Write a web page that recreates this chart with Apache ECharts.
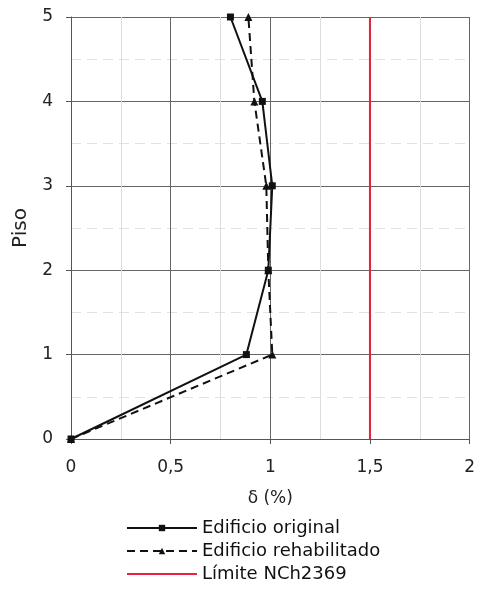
<!DOCTYPE html>
<html>
<head>
<meta charset="utf-8">
<script src="https://cdn.jsdelivr.net/npm/echarts@6/dist/echarts.min.js"></script>
<style>
  html, body { margin: 0; padding: 0; background: #fff; }
  #chart { width: 478px; height: 590px; }
</style>
</head>
<body>
<div id="chart"></div>
<script>
// datos
var pisos = [0, 1, 2, 3, 4, 5];
var derivaOriginal = [0, 0.88, 0.99, 1.01, 0.96, 0.80];
var derivaRehab = [0, 1.01, 0.99, 0.98, 0.92, 0.89];
var limiteX = 1.5;
var limiteY = [0, 5];

function pares(xs, ys) {
  return xs.map(function (x, i) { return [x, ys[i]]; });
}

var myChart = echarts.init(document.getElementById('chart'));
var fuente = 'DejaVu Sans';

var option = {
  animation: false,
  grid: { left: 71, right: 6, top: 17, bottom: 151 },
  legend: {
    orient: 'vertical',
    left: 126,
    top: 519,
    padding: 0,
    itemWidth: 70,
    itemHeight: 8,
    itemGap: 5,
    textStyle: { fontFamily: fuente, fontSize: 18, color: '#111' },
    data: [
      'Edificio original',
      'Edificio rehabilitado',
      { name: 'Límite NCh2369', itemStyle: { opacity: 0 } }
    ]
  },
  xAxis: {
    type: 'value',
    min: 0, max: 2, interval: 0.5,
    name: 'δ (%)',
    nameLocation: 'middle',
    nameGap: 51,
    nameTextStyle: { fontFamily: fuente, fontSize: 17, color: '#222' },
    axisLine: { show: true, lineStyle: { color: '#555', width: 1 } },
    axisTick: { show: true, length: 5, lineStyle: { color: '#555' } },
    axisLabel: {
      margin: 20, fontFamily: fuente, fontSize: 17, color: '#222',
      formatter: function (v) { return String(v).replace('.', ','); }
    },
    splitLine: { show: true, lineStyle: { color: '#666', width: 1 } },
    minorTick: { show: false, splitNumber: 2 },
    minorSplitLine: { show: true, lineStyle: { color: '#ddd', width: 1 } }
  },
  yAxis: {
    type: 'value',
    min: 0, max: 5, interval: 1,
    name: 'Piso',
    nameLocation: 'middle',
    nameGap: 40,
    nameTextStyle: { fontFamily: fuente, fontSize: 20, color: '#222' },
    axisLine: { show: true, lineStyle: { color: '#555', width: 1 } },
    axisTick: { show: true, length: 5, lineStyle: { color: '#555' } },
    axisLabel: { margin: 18, fontFamily: fuente, fontSize: 17, color: '#222' },
    splitLine: { show: true, lineStyle: { color: '#666', width: 1 } },
    minorTick: { show: false, splitNumber: 2 },
    minorSplitLine: { show: true, lineStyle: { color: '#e2e2e2', width: 1, type: [10, 6] } }
  },
  series: [
    {
      name: 'Edificio original',
      type: 'line',
      data: pares(derivaOriginal, pisos),
      symbol: 'rect',
      symbolSize: 7,
      lineStyle: { color: '#111', width: 2 },
      itemStyle: { color: '#111' },
      z: 4
    },
    {
      name: 'Edificio rehabilitado',
      type: 'line',
      data: pares(derivaRehab, pisos),
      symbol: 'triangle',
      symbolSize: 8,
      lineStyle: { color: '#111', width: 2, type: [8, 5] },
      itemStyle: { color: '#111' },
      z: 3
    },
    {
      name: 'Límite NCh2369',
      type: 'line',
      data: limiteY.map(function (y) { return [limiteX, y]; }),
      symbol: 'none',
      lineStyle: { color: '#e8233a', width: 2 },
      itemStyle: { color: '#e8233a' },
      z: 2
    }
  ]
};

myChart.setOption(option);
</script>
</body>
</html>
